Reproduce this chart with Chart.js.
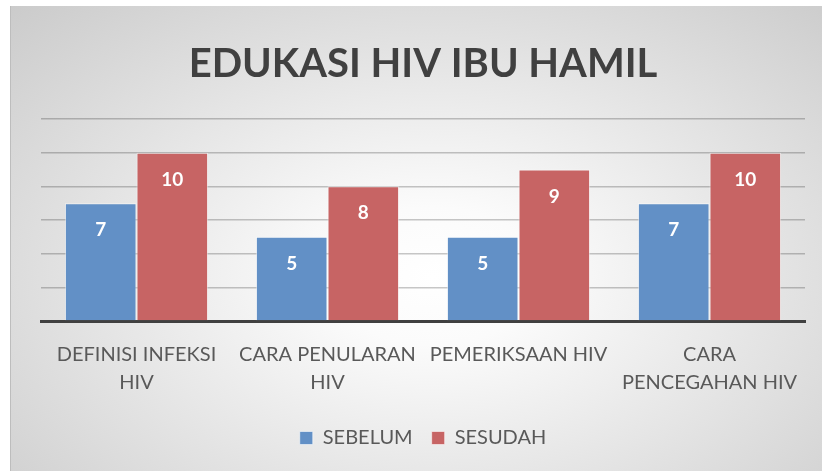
<!DOCTYPE html>
<html>
<head>
<meta charset="utf-8">
<script src="https://cdn.jsdelivr.net/npm/chart.js@4"></script>
<style>
    html, body { margin: 0; padding: 0; background: #fff; }
    .chart-box {
        position: absolute;
        left: 10px;
        top: 6px;
        width: 812px;
        height: 465px;
        background: radial-gradient(ellipse farthest-corner at 52% 58%, #ffffff 0%, #fbfbfb 18%, #cbcbcb 100%);
        border-left: 1px solid #bdbdbd;
        box-sizing: border-box;
    }
</style>
</head>
<body>
<div class="chart-box">
    <canvas id="chart" width="811" height="465"></canvas>
</div>
<script>
const categories = [
    ['DEFINISI INFEKSI', 'HIV'],
    ['CARA PENULARAN', 'HIV'],
    'PEMERIKSAAN HIV',
    ['CARA', 'PENCEGAHAN HIV']
];
const sebelum = [7, 5, 5, 7];
const sesudah = [10, 8, 9, 10];
const seriesNames = ['SEBELUM', 'SESUDAH'];

const FONT = 'Lato, "Open Sans", sans-serif';

// white value labels inside the top of each bar
const barValues = {
    id: 'barValues',
    afterDatasetsDraw(chart) {
        const { ctx } = chart;
        ctx.save();
        ctx.font = 'bold 19px ' + FONT;
        ctx.fillStyle = '#ffffff';
        ctx.textAlign = 'center';
        ctx.textBaseline = 'middle';
        chart.data.datasets.forEach((ds, i) => {
            chart.getDatasetMeta(i).data.forEach((bar, index) => {
                ctx.fillText(ds.data[index], bar.x, bar.y + 27);
            });
        });
        ctx.restore();
    }
};

const data = {
    labels: categories,
    datasets: [{
        label: seriesNames[0],
        data: sebelum,
        backgroundColor: '#6290c6',
        borderColor: 'rgba(255,255,255,0.55)',
        borderWidth: 1,
        categoryPercentage: 0.75,
        barPercentage: 1
    }, {
        label: seriesNames[1],
        data: sesudah,
        backgroundColor: '#c76464',
        borderColor: 'rgba(255,255,255,0.55)',
        borderWidth: 1,
        categoryPercentage: 0.75,
        barPercentage: 1
    }]
};

const config = {
    type: 'bar',
    data,
    options: {
        responsive: false,
        animation: false,
        layout: {
            padding: { left: 30, right: 17, top: 0, bottom: 13 }
        },
        scales: {
            x: {
                grid: { display: false },
                border: { display: true, color: '#404040', width: 3 },
                ticks: {
                    color: '#595959',
                    font: { family: FONT, size: 20, lineHeight: 1.4 },
                    padding: 12,
                    maxRotation: 0,
                    autoSkip: false
                }
            },
            y: {
                min: 0,
                max: 12,
                z: 1,
                ticks: { display: false, stepSize: 2 },
                border: { display: false },
                grid: { color: 'rgba(0,0,0,0.22)', lineWidth: 1.5, drawTicks: false }
            }
        },
        plugins: {
            title: {
                display: true,
                text: 'EDUKASI HIV IBU HAMIL',
                color: '#404040',
                font: { family: FONT, size: 40, weight: 'bold' },
                padding: { top: 34, bottom: 31 }
            },
            legend: {
                position: 'bottom',
                labels: {
                    color: '#595959',
                    font: { family: FONT, size: 20 },
                    boxWidth: 13,
                    boxHeight: 13,
                    padding: 19
                }
            },
            tooltip: { enabled: false }
        }
    },
    plugins: [barValues]
};

const myChart = new Chart(document.getElementById('chart'), config);
</script>
</body>
</html>
